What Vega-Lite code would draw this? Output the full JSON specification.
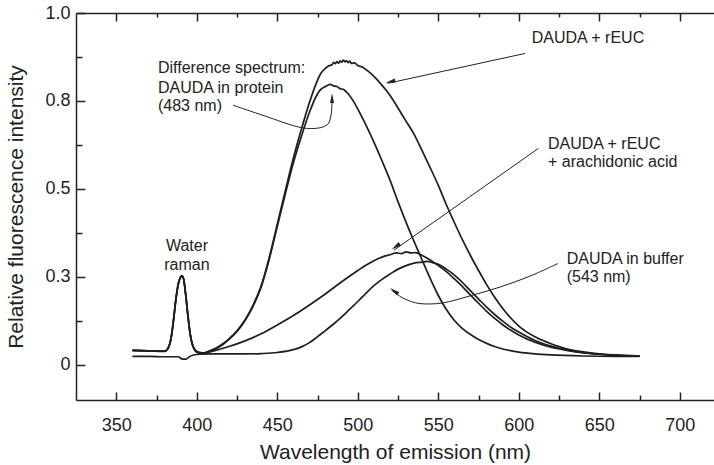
{
  "$schema": "https://vega.github.io/schema/vega-lite/v6.json",
  "autosize": "none",
  "width": 638,
  "height": 387,
  "padding": {"left": 76, "top": 13, "right": 0, "bottom": 65},
  "background": "white",
  "config": {
    "font": "Liberation Sans",
    "view": {"stroke": null},
    "axis": {"grid": false, "domainColor": "#222", "domainWidth": 1.5, "tickColor": "#222", "tickWidth": 1.5, "labelColor": "#222", "titleColor": "#222", "labelFontSize": 18, "titleFontSize": 21, "titleFontWeight": "normal", "labelOverlap": false, "labelFlush": false, "labelBound": false}
  },
  "datasets": {
    "spectra": [
      {"series": "DAUDA + rEUC", "nm": 360, "intensity": 0.042}, {"series": "DAUDA + rEUC", "nm": 365, "intensity": 0.041}, {"series": "DAUDA + rEUC", "nm": 370, "intensity": 0.040}, {"series": "DAUDA + rEUC", "nm": 375, "intensity": 0.039}, {"series": "DAUDA + rEUC", "nm": 380, "intensity": 0.039},
      {"series": "DAUDA + rEUC", "nm": 382, "intensity": 0.046}, {"series": "DAUDA + rEUC", "nm": 384, "intensity": 0.075}, {"series": "DAUDA + rEUC", "nm": 385.5, "intensity": 0.125}, {"series": "DAUDA + rEUC", "nm": 387, "intensity": 0.185}, {"series": "DAUDA + rEUC", "nm": 388.5, "intensity": 0.230},
      {"series": "DAUDA + rEUC", "nm": 390, "intensity": 0.250}, {"series": "DAUDA + rEUC", "nm": 390.8, "intensity": 0.253}, {"series": "DAUDA + rEUC", "nm": 391.8, "intensity": 0.245}, {"series": "DAUDA + rEUC", "nm": 393, "intensity": 0.205}, {"series": "DAUDA + rEUC", "nm": 394.5, "intensity": 0.140},
      {"series": "DAUDA + rEUC", "nm": 396, "intensity": 0.085}, {"series": "DAUDA + rEUC", "nm": 397.5, "intensity": 0.055}, {"series": "DAUDA + rEUC", "nm": 399, "intensity": 0.042}, {"series": "DAUDA + rEUC", "nm": 401, "intensity": 0.036}, {"series": "DAUDA + rEUC", "nm": 404, "intensity": 0.034},
      {"series": "DAUDA + rEUC", "nm": 408, "intensity": 0.040}, {"series": "DAUDA + rEUC", "nm": 412, "intensity": 0.048}, {"series": "DAUDA + rEUC", "nm": 416, "intensity": 0.059}, {"series": "DAUDA + rEUC", "nm": 420, "intensity": 0.074}, {"series": "DAUDA + rEUC", "nm": 425, "intensity": 0.097},
      {"series": "DAUDA + rEUC", "nm": 430, "intensity": 0.128}, {"series": "DAUDA + rEUC", "nm": 435, "intensity": 0.170}, {"series": "DAUDA + rEUC", "nm": 440, "intensity": 0.225}, {"series": "DAUDA + rEUC", "nm": 445, "intensity": 0.305}, {"series": "DAUDA + rEUC", "nm": 450, "intensity": 0.400},
      {"series": "DAUDA + rEUC", "nm": 455, "intensity": 0.495}, {"series": "DAUDA + rEUC", "nm": 460, "intensity": 0.588}, {"series": "DAUDA + rEUC", "nm": 465, "intensity": 0.670}, {"series": "DAUDA + rEUC", "nm": 470, "intensity": 0.746}, {"series": "DAUDA + rEUC", "nm": 474, "intensity": 0.798},
      {"series": "DAUDA + rEUC", "nm": 477, "intensity": 0.828}, {"series": "DAUDA + rEUC", "nm": 480, "intensity": 0.843}, {"series": "DAUDA + rEUC", "nm": 482, "intensity": 0.850}, {"series": "DAUDA + rEUC", "nm": 484, "intensity": 0.853}, {"series": "DAUDA + rEUC", "nm": 485, "intensity": 0.860},
      {"series": "DAUDA + rEUC", "nm": 486, "intensity": 0.856}, {"series": "DAUDA + rEUC", "nm": 487, "intensity": 0.862}, {"series": "DAUDA + rEUC", "nm": 488, "intensity": 0.857}, {"series": "DAUDA + rEUC", "nm": 489, "intensity": 0.864}, {"series": "DAUDA + rEUC", "nm": 490, "intensity": 0.860},
      {"series": "DAUDA + rEUC", "nm": 491, "intensity": 0.866}, {"series": "DAUDA + rEUC", "nm": 492, "intensity": 0.861}, {"series": "DAUDA + rEUC", "nm": 493, "intensity": 0.865}, {"series": "DAUDA + rEUC", "nm": 494, "intensity": 0.859}, {"series": "DAUDA + rEUC", "nm": 495, "intensity": 0.863},
      {"series": "DAUDA + rEUC", "nm": 496, "intensity": 0.857}, {"series": "DAUDA + rEUC", "nm": 498, "intensity": 0.858}, {"series": "DAUDA + rEUC", "nm": 500, "intensity": 0.851}, {"series": "DAUDA + rEUC", "nm": 503, "intensity": 0.846}, {"series": "DAUDA + rEUC", "nm": 506, "intensity": 0.836},
      {"series": "DAUDA + rEUC", "nm": 510, "intensity": 0.820}, {"series": "DAUDA + rEUC", "nm": 514, "intensity": 0.800}, {"series": "DAUDA + rEUC", "nm": 518, "intensity": 0.778}, {"series": "DAUDA + rEUC", "nm": 522, "intensity": 0.752}, {"series": "DAUDA + rEUC", "nm": 526, "intensity": 0.722},
      {"series": "DAUDA + rEUC", "nm": 530, "intensity": 0.692}, {"series": "DAUDA + rEUC", "nm": 535, "intensity": 0.655}, {"series": "DAUDA + rEUC", "nm": 540, "intensity": 0.608}, {"series": "DAUDA + rEUC", "nm": 545, "intensity": 0.560}, {"series": "DAUDA + rEUC", "nm": 550, "intensity": 0.510},
      {"series": "DAUDA + rEUC", "nm": 555, "intensity": 0.455}, {"series": "DAUDA + rEUC", "nm": 560, "intensity": 0.404}, {"series": "DAUDA + rEUC", "nm": 565, "intensity": 0.355}, {"series": "DAUDA + rEUC", "nm": 570, "intensity": 0.310}, {"series": "DAUDA + rEUC", "nm": 575, "intensity": 0.268},
      {"series": "DAUDA + rEUC", "nm": 580, "intensity": 0.228}, {"series": "DAUDA + rEUC", "nm": 585, "intensity": 0.192}, {"series": "DAUDA + rEUC", "nm": 590, "intensity": 0.160}, {"series": "DAUDA + rEUC", "nm": 595, "intensity": 0.133}, {"series": "DAUDA + rEUC", "nm": 600, "intensity": 0.110},
      {"series": "DAUDA + rEUC", "nm": 605, "intensity": 0.093}, {"series": "DAUDA + rEUC", "nm": 610, "intensity": 0.080}, {"series": "DAUDA + rEUC", "nm": 615, "intensity": 0.069}, {"series": "DAUDA + rEUC", "nm": 620, "intensity": 0.060}, {"series": "DAUDA + rEUC", "nm": 625, "intensity": 0.052},
      {"series": "DAUDA + rEUC", "nm": 630, "intensity": 0.045}, {"series": "DAUDA + rEUC", "nm": 640, "intensity": 0.037}, {"series": "DAUDA + rEUC", "nm": 650, "intensity": 0.031}, {"series": "DAUDA + rEUC", "nm": 660, "intensity": 0.028}, {"series": "DAUDA + rEUC", "nm": 675, "intensity": 0.025},

      {"series": "Difference", "nm": 360, "intensity": 0.041}, {"series": "Difference", "nm": 370, "intensity": 0.040}, {"series": "Difference", "nm": 380, "intensity": 0.039}, {"series": "Difference", "nm": 382, "intensity": 0.046}, {"series": "Difference", "nm": 384, "intensity": 0.075},
      {"series": "Difference", "nm": 385.5, "intensity": 0.125}, {"series": "Difference", "nm": 387, "intensity": 0.185}, {"series": "Difference", "nm": 388.5, "intensity": 0.230}, {"series": "Difference", "nm": 390, "intensity": 0.250}, {"series": "Difference", "nm": 390.8, "intensity": 0.253},
      {"series": "Difference", "nm": 391.8, "intensity": 0.245}, {"series": "Difference", "nm": 393, "intensity": 0.205}, {"series": "Difference", "nm": 394.5, "intensity": 0.140}, {"series": "Difference", "nm": 396, "intensity": 0.085}, {"series": "Difference", "nm": 397.5, "intensity": 0.055},
      {"series": "Difference", "nm": 399, "intensity": 0.041}, {"series": "Difference", "nm": 401, "intensity": 0.035}, {"series": "Difference", "nm": 404, "intensity": 0.033}, {"series": "Difference", "nm": 408, "intensity": 0.038}, {"series": "Difference", "nm": 412, "intensity": 0.046},
      {"series": "Difference", "nm": 416, "intensity": 0.057}, {"series": "Difference", "nm": 420, "intensity": 0.072}, {"series": "Difference", "nm": 425, "intensity": 0.095}, {"series": "Difference", "nm": 430, "intensity": 0.126}, {"series": "Difference", "nm": 435, "intensity": 0.167},
      {"series": "Difference", "nm": 440, "intensity": 0.221}, {"series": "Difference", "nm": 445, "intensity": 0.300}, {"series": "Difference", "nm": 450, "intensity": 0.393}, {"series": "Difference", "nm": 455, "intensity": 0.486}, {"series": "Difference", "nm": 460, "intensity": 0.574},
      {"series": "Difference", "nm": 465, "intensity": 0.650}, {"series": "Difference", "nm": 470, "intensity": 0.718}, {"series": "Difference", "nm": 474, "intensity": 0.762}, {"series": "Difference", "nm": 477, "intensity": 0.783}, {"series": "Difference", "nm": 479, "intensity": 0.789},
      {"series": "Difference", "nm": 481, "intensity": 0.794}, {"series": "Difference", "nm": 483, "intensity": 0.797}, {"series": "Difference", "nm": 485, "intensity": 0.793}, {"series": "Difference", "nm": 487, "intensity": 0.791}, {"series": "Difference", "nm": 489, "intensity": 0.785},
      {"series": "Difference", "nm": 491, "intensity": 0.783}, {"series": "Difference", "nm": 493, "intensity": 0.775}, {"series": "Difference", "nm": 495, "intensity": 0.765}, {"series": "Difference", "nm": 498, "intensity": 0.744}, {"series": "Difference", "nm": 501, "intensity": 0.718},
      {"series": "Difference", "nm": 505, "intensity": 0.682}, {"series": "Difference", "nm": 510, "intensity": 0.633}, {"series": "Difference", "nm": 515, "intensity": 0.580}, {"series": "Difference", "nm": 520, "intensity": 0.525}, {"series": "Difference", "nm": 525, "intensity": 0.463},
      {"series": "Difference", "nm": 530, "intensity": 0.405}, {"series": "Difference", "nm": 535, "intensity": 0.350}, {"series": "Difference", "nm": 540, "intensity": 0.297}, {"series": "Difference", "nm": 545, "intensity": 0.245}, {"series": "Difference", "nm": 550, "intensity": 0.197},
      {"series": "Difference", "nm": 555, "intensity": 0.157}, {"series": "Difference", "nm": 560, "intensity": 0.126}, {"series": "Difference", "nm": 565, "intensity": 0.103}, {"series": "Difference", "nm": 570, "intensity": 0.086}, {"series": "Difference", "nm": 575, "intensity": 0.072},
      {"series": "Difference", "nm": 580, "intensity": 0.061}, {"series": "Difference", "nm": 585, "intensity": 0.052}, {"series": "Difference", "nm": 590, "intensity": 0.045}, {"series": "Difference", "nm": 600, "intensity": 0.036}, {"series": "Difference", "nm": 610, "intensity": 0.031},
      {"series": "Difference", "nm": 620, "intensity": 0.028}, {"series": "Difference", "nm": 640, "intensity": 0.025}, {"series": "Difference", "nm": 660, "intensity": 0.024}, {"series": "Difference", "nm": 675, "intensity": 0.024},

      {"series": "DAUDA + rEUC + AA", "nm": 360, "intensity": 0.040}, {"series": "DAUDA + rEUC + AA", "nm": 370, "intensity": 0.039}, {"series": "DAUDA + rEUC + AA", "nm": 380, "intensity": 0.038}, {"series": "DAUDA + rEUC + AA", "nm": 382, "intensity": 0.045}, {"series": "DAUDA + rEUC + AA", "nm": 384, "intensity": 0.074},
      {"series": "DAUDA + rEUC + AA", "nm": 385.5, "intensity": 0.124}, {"series": "DAUDA + rEUC + AA", "nm": 387, "intensity": 0.184}, {"series": "DAUDA + rEUC + AA", "nm": 388.5, "intensity": 0.229}, {"series": "DAUDA + rEUC + AA", "nm": 390, "intensity": 0.249}, {"series": "DAUDA + rEUC + AA", "nm": 390.8, "intensity": 0.252},
      {"series": "DAUDA + rEUC + AA", "nm": 391.8, "intensity": 0.244}, {"series": "DAUDA + rEUC + AA", "nm": 393, "intensity": 0.204}, {"series": "DAUDA + rEUC + AA", "nm": 394.5, "intensity": 0.139}, {"series": "DAUDA + rEUC + AA", "nm": 396, "intensity": 0.084}, {"series": "DAUDA + rEUC + AA", "nm": 397.5, "intensity": 0.054},
      {"series": "DAUDA + rEUC + AA", "nm": 399, "intensity": 0.040}, {"series": "DAUDA + rEUC + AA", "nm": 401, "intensity": 0.034}, {"series": "DAUDA + rEUC + AA", "nm": 404, "intensity": 0.033}, {"series": "DAUDA + rEUC + AA", "nm": 410, "intensity": 0.039}, {"series": "DAUDA + rEUC + AA", "nm": 420, "intensity": 0.052},
      {"series": "DAUDA + rEUC + AA", "nm": 430, "intensity": 0.068}, {"series": "DAUDA + rEUC + AA", "nm": 440, "intensity": 0.088}, {"series": "DAUDA + rEUC + AA", "nm": 450, "intensity": 0.113}, {"series": "DAUDA + rEUC + AA", "nm": 460, "intensity": 0.140}, {"series": "DAUDA + rEUC + AA", "nm": 470, "intensity": 0.170},
      {"series": "DAUDA + rEUC + AA", "nm": 480, "intensity": 0.202}, {"series": "DAUDA + rEUC + AA", "nm": 490, "intensity": 0.236}, {"series": "DAUDA + rEUC + AA", "nm": 500, "intensity": 0.268}, {"series": "DAUDA + rEUC + AA", "nm": 505, "intensity": 0.283}, {"series": "DAUDA + rEUC + AA", "nm": 510, "intensity": 0.296},
      {"series": "DAUDA + rEUC + AA", "nm": 515, "intensity": 0.306}, {"series": "DAUDA + rEUC + AA", "nm": 520, "intensity": 0.313}, {"series": "DAUDA + rEUC + AA", "nm": 524, "intensity": 0.318}, {"series": "DAUDA + rEUC + AA", "nm": 527, "intensity": 0.316}, {"series": "DAUDA + rEUC + AA", "nm": 530, "intensity": 0.321},
      {"series": "DAUDA + rEUC + AA", "nm": 533, "intensity": 0.318}, {"series": "DAUDA + rEUC + AA", "nm": 536, "intensity": 0.319}, {"series": "DAUDA + rEUC + AA", "nm": 540, "intensity": 0.311}, {"series": "DAUDA + rEUC + AA", "nm": 545, "intensity": 0.298}, {"series": "DAUDA + rEUC + AA", "nm": 550, "intensity": 0.282},
      {"series": "DAUDA + rEUC + AA", "nm": 555, "intensity": 0.265}, {"series": "DAUDA + rEUC + AA", "nm": 560, "intensity": 0.244}, {"series": "DAUDA + rEUC + AA", "nm": 565, "intensity": 0.222}, {"series": "DAUDA + rEUC + AA", "nm": 570, "intensity": 0.198}, {"series": "DAUDA + rEUC + AA", "nm": 575, "intensity": 0.175},
      {"series": "DAUDA + rEUC + AA", "nm": 580, "intensity": 0.152}, {"series": "DAUDA + rEUC + AA", "nm": 585, "intensity": 0.132}, {"series": "DAUDA + rEUC + AA", "nm": 590, "intensity": 0.114}, {"series": "DAUDA + rEUC + AA", "nm": 595, "intensity": 0.098}, {"series": "DAUDA + rEUC + AA", "nm": 600, "intensity": 0.085},
      {"series": "DAUDA + rEUC + AA", "nm": 610, "intensity": 0.064}, {"series": "DAUDA + rEUC + AA", "nm": 620, "intensity": 0.050}, {"series": "DAUDA + rEUC + AA", "nm": 630, "intensity": 0.041}, {"series": "DAUDA + rEUC + AA", "nm": 640, "intensity": 0.034}, {"series": "DAUDA + rEUC + AA", "nm": 650, "intensity": 0.030},
      {"series": "DAUDA + rEUC + AA", "nm": 660, "intensity": 0.027}, {"series": "DAUDA + rEUC + AA", "nm": 675, "intensity": 0.025},

      {"series": "DAUDA in buffer", "nm": 360, "intensity": 0.024}, {"series": "DAUDA in buffer", "nm": 370, "intensity": 0.024}, {"series": "DAUDA in buffer", "nm": 380, "intensity": 0.023}, {"series": "DAUDA in buffer", "nm": 388, "intensity": 0.023}, {"series": "DAUDA in buffer", "nm": 389.5, "intensity": 0.021},
      {"series": "DAUDA in buffer", "nm": 390.5, "intensity": 0.017}, {"series": "DAUDA in buffer", "nm": 393.5, "intensity": 0.016}, {"series": "DAUDA in buffer", "nm": 395, "intensity": 0.022}, {"series": "DAUDA in buffer", "nm": 398, "intensity": 0.028}, {"series": "DAUDA in buffer", "nm": 402, "intensity": 0.030},
      {"series": "DAUDA in buffer", "nm": 410, "intensity": 0.031}, {"series": "DAUDA in buffer", "nm": 420, "intensity": 0.031}, {"series": "DAUDA in buffer", "nm": 430, "intensity": 0.031}, {"series": "DAUDA in buffer", "nm": 440, "intensity": 0.032}, {"series": "DAUDA in buffer", "nm": 450, "intensity": 0.035},
      {"series": "DAUDA in buffer", "nm": 460, "intensity": 0.043}, {"series": "DAUDA in buffer", "nm": 465, "intensity": 0.051}, {"series": "DAUDA in buffer", "nm": 470, "intensity": 0.063}, {"series": "DAUDA in buffer", "nm": 475, "intensity": 0.080}, {"series": "DAUDA in buffer", "nm": 480, "intensity": 0.098},
      {"series": "DAUDA in buffer", "nm": 485, "intensity": 0.116}, {"series": "DAUDA in buffer", "nm": 490, "intensity": 0.136}, {"series": "DAUDA in buffer", "nm": 495, "intensity": 0.158}, {"series": "DAUDA in buffer", "nm": 500, "intensity": 0.180}, {"series": "DAUDA in buffer", "nm": 505, "intensity": 0.203},
      {"series": "DAUDA in buffer", "nm": 510, "intensity": 0.225}, {"series": "DAUDA in buffer", "nm": 515, "intensity": 0.243}, {"series": "DAUDA in buffer", "nm": 520, "intensity": 0.258}, {"series": "DAUDA in buffer", "nm": 525, "intensity": 0.272}, {"series": "DAUDA in buffer", "nm": 530, "intensity": 0.282},
      {"series": "DAUDA in buffer", "nm": 535, "intensity": 0.289}, {"series": "DAUDA in buffer", "nm": 540, "intensity": 0.292}, {"series": "DAUDA in buffer", "nm": 543, "intensity": 0.294}, {"series": "DAUDA in buffer", "nm": 546, "intensity": 0.291}, {"series": "DAUDA in buffer", "nm": 550, "intensity": 0.286},
      {"series": "DAUDA in buffer", "nm": 555, "intensity": 0.272}, {"series": "DAUDA in buffer", "nm": 560, "intensity": 0.255}, {"series": "DAUDA in buffer", "nm": 565, "intensity": 0.234}, {"series": "DAUDA in buffer", "nm": 570, "intensity": 0.210}, {"series": "DAUDA in buffer", "nm": 575, "intensity": 0.187},
      {"series": "DAUDA in buffer", "nm": 580, "intensity": 0.164}, {"series": "DAUDA in buffer", "nm": 585, "intensity": 0.143}, {"series": "DAUDA in buffer", "nm": 590, "intensity": 0.124}, {"series": "DAUDA in buffer", "nm": 595, "intensity": 0.107}, {"series": "DAUDA in buffer", "nm": 600, "intensity": 0.093},
      {"series": "DAUDA in buffer", "nm": 610, "intensity": 0.069}, {"series": "DAUDA in buffer", "nm": 620, "intensity": 0.053}, {"series": "DAUDA in buffer", "nm": 630, "intensity": 0.042}, {"series": "DAUDA in buffer", "nm": 640, "intensity": 0.035}, {"series": "DAUDA in buffer", "nm": 650, "intensity": 0.030},
      {"series": "DAUDA in buffer", "nm": 660, "intensity": 0.027}, {"series": "DAUDA in buffer", "nm": 675, "intensity": 0.025}
    ],
    "leaders": [
      {"arrow": "rEUC", "i": 0, "nm": 603.8, "intensity": 0.885}, {"arrow": "rEUC", "i": 1, "nm": 518.5, "intensity": 0.800},
      {"arrow": "AA", "i": 0, "nm": 612.1, "intensity": 0.615}, {"arrow": "AA", "i": 1, "nm": 522.5, "intensity": 0.326},
      {"arrow": "buffer", "i": 0, "nm": 624.3, "intensity": 0.288}, {"arrow": "buffer", "i": 1, "nm": 606.9, "intensity": 0.252}, {"arrow": "buffer", "i": 2, "nm": 588.3, "intensity": 0.221}, {"arrow": "buffer", "i": 3, "nm": 569.7, "intensity": 0.196}, {"arrow": "buffer", "i": 4, "nm": 552.9, "intensity": 0.176}, {"arrow": "buffer", "i": 5, "nm": 538.6, "intensity": 0.174}, {"arrow": "buffer", "i": 6, "nm": 529.3, "intensity": 0.187}, {"arrow": "buffer", "i": 7, "nm": 523.6, "intensity": 0.203}, {"arrow": "buffer", "i": 8, "nm": 521.0, "intensity": 0.212},
      {"arrow": "protein", "i": 0, "nm": 422.5, "intensity": 0.738}, {"arrow": "protein", "i": 1, "nm": 442.4, "intensity": 0.707}, {"arrow": "protein", "i": 2, "nm": 462.2, "intensity": 0.677}, {"arrow": "protein", "i": 3, "nm": 473.4, "intensity": 0.672}, {"arrow": "protein", "i": 4, "nm": 480.9, "intensity": 0.682}, {"arrow": "protein", "i": 5, "nm": 483.4, "intensity": 0.710}, {"arrow": "protein", "i": 6, "nm": 484.0, "intensity": 0.755}
    ],
    "heads": [
      {"arrow": "rEUC", "nm": 517.2, "intensity": 0.802},
      {"arrow": "AA", "nm": 521.0, "intensity": 0.328},
      {"arrow": "buffer", "nm": 520.0, "intensity": 0.218},
      {"arrow": "protein", "nm": 484.0, "intensity": 0.772}
    ],
    "notes": [
      {"t": "Difference spectrum:", "nm": 375.9, "intensity": 0.845},
      {"t": "DAUDA in protein", "nm": 375.9, "intensity": 0.788},
      {"t": "(483 nm)", "nm": 375.9, "intensity": 0.736},
      {"t": "DAUDA + rEUC", "nm": 608.0, "intensity": 0.929},
      {"t": "DAUDA + rEUC", "nm": 618.1, "intensity": 0.628},
      {"t": "+ arachidonic acid", "nm": 618.1, "intensity": 0.576},
      {"t": "DAUDA in buffer", "nm": 629.7, "intensity": 0.301},
      {"t": "(543 nm)", "nm": 629.7, "intensity": 0.250}
    ],
    "ramanNote": [
      {"t": "Water", "nm": 393.9, "intensity": 0.338},
      {"t": "raman", "nm": 393.9, "intensity": 0.284}
    ]
  },
  "layer": [
    {
      "data": {"name": "spectra"},
      "mark": {"type": "line", "interpolate": "monotone", "strokeWidth": 1.7, "color": "#1e1e1e"},
      "encoding": {
        "x": {
          "field": "nm", "type": "quantitative",
          "scale": {"domain": [325, 721.2], "nice": false, "zero": false},
          "axis": {
            "orient": "bottom",
            "values": [350, 375, 400, 425, 450, 475, 500, 525, 550, 575, 600, 625, 650, 675, 700],
            "labelExpr": "datum.value % 50 === 0 ? datum.label : ''",
            "tickSize": {"condition": {"test": "datum.value % 50 === 0", "value": -8}, "value": -5},
            "labelPadding": 24,
            "title": "Wavelength of emission (nm)",
            "titleY": 52,
            "titleBaseline": "middle"
          }
        },
        "y": {
          "field": "intensity", "type": "quantitative",
          "scale": {"domain": [-0.1, 1.0], "nice": false, "zero": false},
          "axis": {
            "orient": "left",
            "values": [0, 0.125, 0.25, 0.375, 0.5, 0.625, 0.75, 0.875, 1],
            "labelExpr": "datum.value === 0 ? '0' : datum.value === 0.25 ? '0.3' : datum.value === 0.5 ? '0.5' : datum.value === 0.75 ? '0.8' : datum.value === 1 ? '1.0' : ''",
            "tickSize": {"condition": {"test": "datum.value % 0.25 === 0", "value": -9}, "value": -6},
            "labelPadding": 15,
            "title": "Relative fluorescence intensity",
            "titleX": -60,
            "titleBaseline": "middle"
          }
        },
        "detail": {"field": "series"}
      }
    },
    {
      "data": {"name": "leaders"},
      "mark": {"type": "line", "interpolate": "cardinal", "strokeWidth": 1, "color": "#222"},
      "encoding": {
        "x": {
          "field": "nm", "type": "quantitative",
          "scale": {"domain": [325, 721.2], "nice": false, "zero": false},
          "axis": {
            "orient": "top",
            "values": [350, 375, 400, 425, 450, 475, 500, 525, 550, 575, 600, 625, 650, 675, 700],
            "labels": false,
            "title": null,
            "tickSize": {"condition": {"test": "datum.value % 50 === 0", "value": -8}, "value": -4}
          }
        },
        "y": {"field": "intensity", "type": "quantitative", "scale": {"domain": [-0.1, 1.0], "nice": false, "zero": false}, "axis": null},
        "detail": {"field": "arrow"},
        "order": {"field": "i", "type": "quantitative"}
      }
    },
    {
      "data": {"name": "heads"},
      "transform": [{"filter": "datum.arrow === 'rEUC'"}],
      "mark": {"type": "point", "shape": "M0,0L-0.45,2.2L0.45,2.2Z", "filled": true, "size": 81, "color": "#222", "opacity": 1, "angle": 258},
      "encoding": {
        "x": {"field": "nm", "type": "quantitative", "scale": {"domain": [325, 721.2], "nice": false, "zero": false}, "axis": null},
        "y": {"field": "intensity", "type": "quantitative", "scale": {"domain": [-0.1, 1.0], "nice": false, "zero": false}, "axis": null}
      }
    },
    {
      "data": {"name": "heads"},
      "transform": [{"filter": "datum.arrow === 'AA'"}],
      "mark": {"type": "point", "shape": "M0,0L-0.45,2.2L0.45,2.2Z", "filled": true, "size": 81, "color": "#222", "opacity": 1, "angle": 235},
      "encoding": {
        "x": {"field": "nm", "type": "quantitative", "scale": {"domain": [325, 721.2], "nice": false, "zero": false}, "axis": null},
        "y": {"field": "intensity", "type": "quantitative", "scale": {"domain": [-0.1, 1.0], "nice": false, "zero": false}, "axis": null}
      }
    },
    {
      "data": {"name": "heads"},
      "transform": [{"filter": "datum.arrow === 'buffer'"}],
      "mark": {"type": "point", "shape": "M0,0L-0.45,2.2L0.45,2.2Z", "filled": true, "size": 81, "color": "#222", "opacity": 1, "angle": 305},
      "encoding": {
        "x": {"field": "nm", "type": "quantitative", "scale": {"domain": [325, 721.2], "nice": false, "zero": false}, "axis": null},
        "y": {"field": "intensity", "type": "quantitative", "scale": {"domain": [-0.1, 1.0], "nice": false, "zero": false}, "axis": null}
      }
    },
    {
      "data": {"name": "heads"},
      "transform": [{"filter": "datum.arrow === 'protein'"}],
      "mark": {"type": "point", "shape": "M0,0L-0.45,2.2L0.45,2.2Z", "filled": true, "size": 81, "color": "#222", "opacity": 1, "angle": 0},
      "encoding": {
        "x": {"field": "nm", "type": "quantitative", "scale": {"domain": [325, 721.2], "nice": false, "zero": false}, "axis": null},
        "y": {"field": "intensity", "type": "quantitative", "scale": {"domain": [-0.1, 1.0], "nice": false, "zero": false}, "axis": null}
      }
    },
    {
      "data": {"name": "notes"},
      "mark": {"type": "text", "align": "left", "baseline": "middle", "fontSize": 16, "color": "#222"},
      "encoding": {
        "x": {"field": "nm", "type": "quantitative", "scale": {"domain": [325, 721.2], "nice": false, "zero": false}, "axis": null},
        "y": {"field": "intensity", "type": "quantitative", "scale": {"domain": [-0.1, 1.0], "nice": false, "zero": false}, "axis": null},
        "text": {"field": "t"}
      }
    },
    {
      "data": {"name": "ramanNote"},
      "mark": {"type": "text", "align": "center", "baseline": "middle", "fontSize": 16, "color": "#222"},
      "encoding": {
        "x": {"field": "nm", "type": "quantitative", "scale": {"domain": [325, 721.2], "nice": false, "zero": false}, "axis": null},
        "y": {"field": "intensity", "type": "quantitative", "scale": {"domain": [-0.1, 1.0], "nice": false, "zero": false}, "axis": null},
        "text": {"field": "t"}
      }
    }
  ],
  "resolve": {"axis": {"x": "independent", "y": "independent"}}
}
